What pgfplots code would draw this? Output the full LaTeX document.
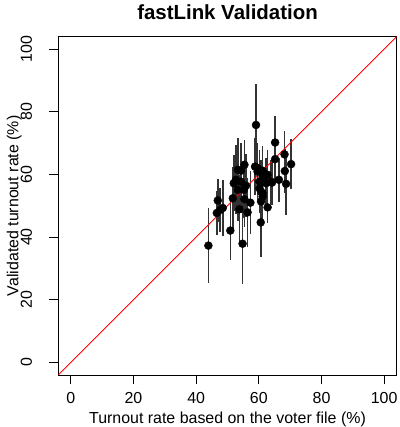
\documentclass[border=0pt]{standalone}
\usepackage{fontspec}
\setmainfont{Liberation Sans}
\usepackage{pgfplots}
\usepackage{pgfplotstable}
\pgfplotsset{compat=1.18}
\pgfplotstableread{
x y e
43.9 37.3 12
59.1 75.8 13
54.8 37.9 13
50.9 42.1 9.5
60.6 44.7 11
65.2 70.2 8.5
68.2 66.4 7.5
70.3 63.3 8
68.3 61.1 7
68.7 57.0 10
66.4 58.3 7
65.2 64.9 7
62.8 49.5 5
55.4 63.1 8
54.3 61.2 9
58.8 62.5 9
61.2 61.2 8
46.9 51.7 7
47.7 48.7 7
46.6 47.7 7
48.5 49.3 9
52.0 57.2 9
51.7 52.4 10
53.8 48.9 11
56.4 47.9 11
57.3 51.0 10
55.4 52.1 9
53.3 55.1 10
52.7 58.3 11
54.3 57.7 10
55.9 56.4 10
60.2 57.7 10
61.2 59.3 9
62.3 57.2 8
63.9 57.7 7
60.7 54.5 10
61.2 53.0 9
62.8 59.9 8
60.2 55.6 8
59.6 60.9 9
53.3 61.5 10
55.2 55.1 9
64.2 57.4 7
59.6 62.0 8
61.2 54.0 9
60.7 51.4 9
}\data
\begin{document}
\begin{tikzpicture}
\useasboundingbox (-58.3bp,-52bp) rectangle (341.7bp,375bp);
\begin{axis}[
  at={(0,0)}, anchor=south west,
  scale only axis, width=338.4bp, height=338.4bp,
  xmin=-4, xmax=104, ymin=-4, ymax=104,
  xtick={0,20,...,100}, ytick={0,20,...,100},
  xtick pos=bottom, ytick pos=left,
  tick align=outside, major tick length=9bp,
  tick style={black, line width=0.8bp},
  axis line style={line width=0.8bp},
  /pgf/number format/assume math mode=true,
  ticklabel style={font=\fontsize{16}{19}\selectfont},
  xticklabel style={anchor=center, yshift=-14bp},
  yticklabel style={xshift=-23bp, rotate=90, anchor=center},
  title={fastLink Validation},
  title style={font=\fontsize{20.5}{24}\selectfont\bfseries, at={([yshift=18.5bp]axis description cs:0.5,1)}, anchor=center},
  xlabel={Turnout rate based on the voter file (\%)},
  xlabel style={font=\fontsize{16}{19}\selectfont, at={([yshift=-44.5bp]axis description cs:0.5,0)}, anchor=center},
  ylabel={Validated turnout rate (\%)},
  ylabel style={font=\fontsize{16}{19}\selectfont, at={([xshift=-44bp]axis description cs:0,0.5)}, anchor=center},
]
\addplot[only marks, mark=*, mark size=4bp, black,
  error bars/.cd, y dir=both, y explicit, error mark=none,
  error bar style={line width=1.6bp, black!80}]
  table[x=x, y=y, y error=e] {\data};
\addplot[red, line width=0.8bp] coordinates {(-4,-4) (104,104)};
\end{axis}
\end{tikzpicture}
\end{document}
